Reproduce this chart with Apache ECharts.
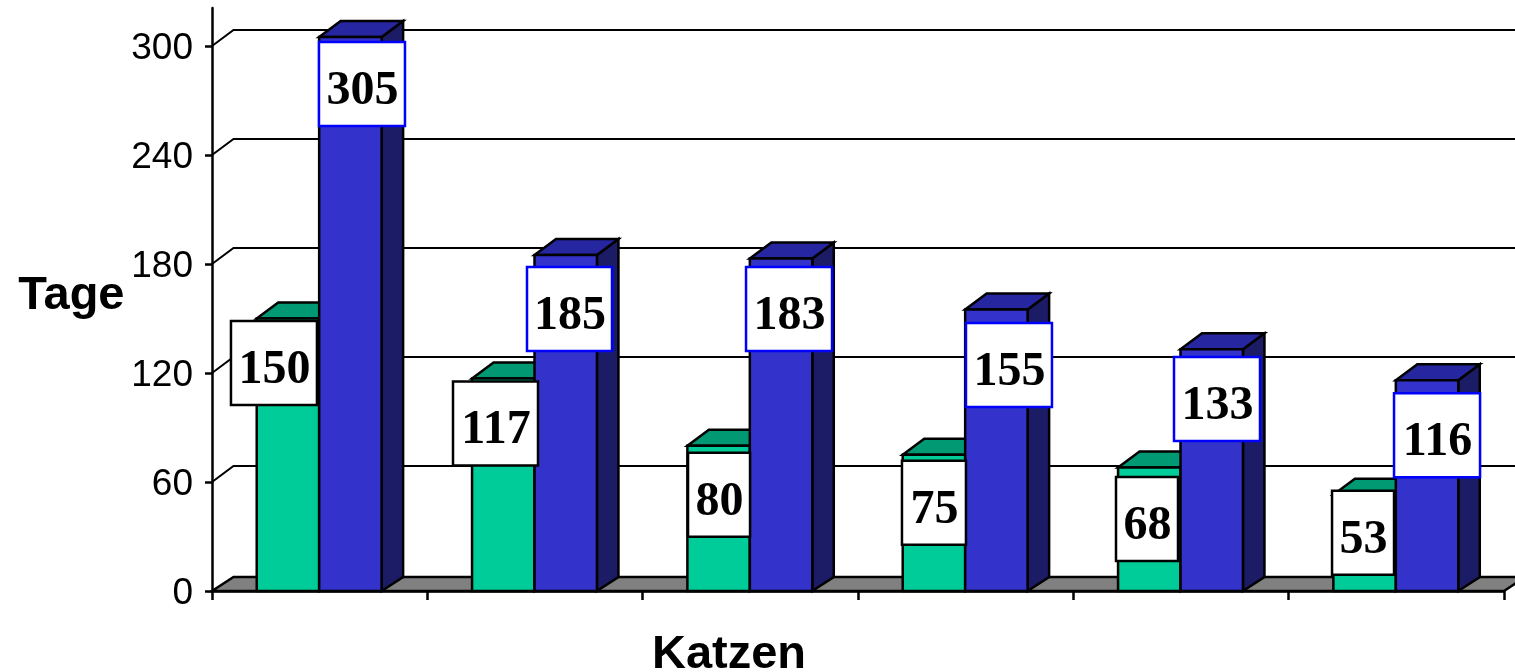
<!DOCTYPE html>
<html><head><meta charset="utf-8">
<style>html,body{margin:0;padding:0;background:#fff}#c{width:1515px;height:672px}</style>
<script src="https://cdn.jsdelivr.net/npm/echarts@6/dist/echarts.min.js"></script>
</head><body><div id="c"></div>
<script>
const categories = ['1','2','3','4','5','6'];
const greenValues = [150,117,80,75,68,53];
const blueValues = [305,185,183,155,133,116];
const tickValues = [0,60,120,180,240,300];

// depth of the pseudo-3D projection, px
const DX = 21.5, DY = -16, FLOOR_DY = -14, SEAM = -0.5;
// label boxes relative to the centre of each pair and the top of their bar, px: [left, width, top]
const greenBoxes = [[-88.7,86,2.5],[-82,85,3],[-62.3,62,7],[-63.7,64,6],[-65,62,9.5],[-64.3,62,-4]];
const blueBoxes = [[-0.7,86,5],[-8,85,12],[-4.3,86,8.5],[0.3,86,13.6],[-7,86,7.6],[-2.3,86,13]];

const chart = echarts.init(document.getElementById('c'), null, {renderer:'canvas'});
const line = {stroke:'#000', lineWidth:2.5, lineJoin:'miter'};

function poly(points, fill){
  return {type:'polygon', shape:{points}, style:Object.assign({fill}, line)};
}
function barItem(side, colors){
  return function(params, api){
    const i = api.value(0);
    const top = api.coord([i, api.value(1)]);
    const base = api.coord([i, 0]);
    const w = api.size([1,0])[0] * 0.29;
    const s = top[0] + SEAM;
    const x0 = side < 0 ? s - w : s, x1 = side < 0 ? s : s + w;
    const yT = top[1], yB = base[1];
    return {type:'group', children:[
      poly([[x1,yT],[x1+DX,yT+DY],[x1+DX,yB+FLOOR_DY],[x1,yB]], colors[2]),
      poly([[x0,yT],[x0+DX,yT+DY],[x1+DX,yT+DY],[x1,yT]], colors[1]),
      poly([[x0,yT],[x1,yT],[x1,yB],[x0,yB]], colors[0])
    ]};
  };
}
function labelItem(boxes, border){
  return function(params, api){
    const i = api.value(0), v = api.value(1);
    const top = api.coord([i, v]);
    const b = boxes[i];
    const x = top[0] + b[0], y = top[1] + b[2], h = 84;
    return {type:'group', children:[
      {type:'rect', shape:{x, y, width:b[1], height:h},
       style:{fill:'#fff', stroke:border, lineWidth:2.5}},
      {type:'text', style:{x:x+b[1]/2+0.5, y:y+h/2+7.5, text:String(v), align:'center', verticalAlign:'middle',
        fill:'#000', font:'bold 48px "Liberation Serif"'}}
    ]};
  };
}
const idx = a => a.map((v,i)=>[i,v]);

chart.setOption({
  animation:false,
  backgroundColor:'#fff',
  grid:{left:212, right:11, top:8, bottom:81, containLabel:false, outerBoundsMode:'none'},
  xAxis:{type:'category', data:categories, boundaryGap:true,
    name:'Katzen', nameLocation:'middle', nameGap:41,
    nameTextStyle:{color:'#000', fontFamily:'Liberation Sans', fontWeight:'bold', fontSize:47, padding:[0,258,0,0]},
    axisLine:{show:true, onZero:false, lineStyle:{color:'#000', width:2.5}},
    axisTick:{show:true, length:9, lineStyle:{color:'#000', width:2.5}},
    axisLabel:{show:false}, splitLine:{show:false}},
  yAxis:{type:'value', min:0, max:320.9,
    name:'Tage', nameLocation:'middle', nameRotate:0, nameGap:87.5,
    nameTextStyle:{color:'#000', fontFamily:'Liberation Sans', fontWeight:'bold', fontSize:47, verticalAlign:'bottom', lineHeight:7},
    axisLine:{show:true, lineStyle:{color:'#000', width:2.5}},
    axisTick:{show:true, length:7, customValues:tickValues, lineStyle:{color:'#000', width:2.5}},
    axisLabel:{show:true, margin:19, customValues:tickValues, color:'#000', fontFamily:'Liberation Sans', fontSize:37, verticalAlign:'top', lineHeight:6},
    splitLine:{show:false}},
  series:[
    {type:'custom', name:'Boden', clip:false, z:1, data:[[0]], silent:true,
     renderItem(params, api){
       const c = params.coordSys, y = api.coord([0,0])[1];
       return poly([[c.x,y],[c.x+DX,y+FLOOR_DY],[c.x+c.width+DX,y+FLOOR_DY],[c.x+c.width,y]], '#808080');
     }},
    {type:'custom', name:'Gitter', clip:false, z:1, data:tickValues.filter(v=>v>0).map(v=>[v]), silent:true,
     encode:{y:0},
     renderItem(params, api){
       const c = params.coordSys, y = api.coord([0, api.value(0)])[1];
       return {type:'polyline', shape:{points:[[c.x,y],[c.x+DX,y+DY],[c.x+c.width+DX,y+DY]]},
         style:{stroke:'#000', lineWidth:2, fill:null}};
     }},
    {type:'custom', name:'Grün', clip:false, z:2, data:idx(greenValues), encode:{x:0,y:1},
     renderItem:barItem(-1, ['#00CC99','#009973','#006B50'])},
    {type:'custom', name:'Blau', clip:false, z:3, data:idx(blueValues), encode:{x:0,y:1},
     renderItem:barItem(1, ['#3333CC','#2626A0','#1C1C66'])},
    {type:'custom', name:'GrünLabel', clip:false, z:4, data:idx(greenValues), encode:{x:0,y:1},
     renderItem:labelItem(greenBoxes, '#000')},
    {type:'custom', name:'BlauLabel', clip:false, z:4, data:idx(blueValues), encode:{x:0,y:1},
     renderItem:labelItem(blueBoxes, '#0000FF')}
  ]
});
</script></body></html>
